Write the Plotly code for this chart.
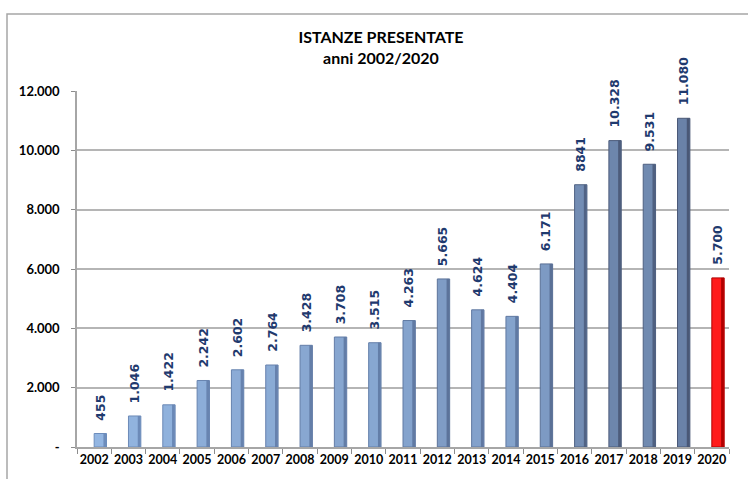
import plotly.graph_objects as go

years = ["2002", "2003", "2004", "2005", "2006", "2007", "2008", "2009", "2010", "2011",
         "2012", "2013", "2014", "2015", "2016", "2017", "2018", "2019", "2020"]
values = [455, 1046, 1422, 2242, 2602, 2764, 3428, 3708, 3515, 4263,
          5665, 4624, 4404, 6171, 8841, 10328, 9531, 11080, 5700]
labels = ["455", "1.046", "1.422", "2.242", "2.602", "2.764", "3.428", "3.708", "3.515", "4.263",
          "5.665", "4.624", "4.404", "6.171", "8841", "10.328", "9.531", "11.080", "5.700"]
y_ticks = [0, 2000, 4000, 6000, 8000, 10000, 12000]
y_tick_labels = ["-", "2.000", "4.000", "6.000", "8.000", "10.000", "12.000"]


def mix(c1, c2, t):
    a = [int(c1[i:i + 2], 16) for i in (1, 3, 5)]
    b = [int(c2[i:i + 2], 16) for i in (1, 3, 5)]
    return "#" + "".join("%02x" % round(a[k] + (b[k] - a[k]) * t) for k in range(3))


vmax = max(values)
n = len(years)
body = [mix("#95b8e4", "#6a82a8", v / vmax) for v in values[:-1]] + ["#ff1a1a"]
edge = [mix("#6f8fbf", "#4a5876", v / vmax) for v in values[:-1]] + ["#b00000"]
xs = list(range(n))

fig = go.Figure()
fig.add_trace(go.Bar(
    x=xs, y=values, width=0.36, offset=0.0,
    marker=dict(color=body, line=dict(color=edge, width=1)),
    hovertext=years, hoverinfo="text+y",
))
fig.add_trace(go.Bar(
    x=xs, y=values, width=0.08, offset=0.27,
    marker=dict(color=edge, line=dict(width=0)),
    hoverinfo="skip",
))

for i, (v, lab) in enumerate(zip(values, labels)):
    fig.add_annotation(
        x=i, y=v, text=lab, showarrow=False, textangle=-90,
        yanchor="bottom", xanchor="center", yshift=11, xshift=6,
        font=dict(family="DejaVu Sans", size=12.5, color="#1f3a6e", weight="bold"),
    )

ml, mr, mt, mb = 77, 19, 91, 27
W, H = 748, 479
pw, ph = W - ml - mr, H - mt - mb

fig.add_shape(type="rect", xref="paper", yref="paper",
              x0=(7 - ml) / pw, x1=(770 - ml) / pw,
              y0=(H - mb - 500) / ph, y1=(H - mb - 13) / ph,
              line=dict(color="#a6a6a6", width=1.5), fillcolor="rgba(0,0,0,0)", layer="below")

fig.update_layout(
    width=W, height=H,
    margin=dict(l=ml, r=mr, t=mt, b=mb),
    paper_bgcolor="white", plot_bgcolor="white",
    showlegend=False, barmode="overlay",
    title=dict(text="<b>ISTANZE PRESENTATE</b><br><b>anni 2002/2020</b>",
               x=381 / W, xanchor="center", y=0.91, yanchor="top",
               font=dict(family="Lato", size=16, color="black")),
)
fig.update_xaxes(
    range=[-0.5, n - 0.5],
    tickvals=xs, ticktext=years,
    ticks="", showline=True, linecolor="#a6a6a6", linewidth=1.5, showgrid=False, zeroline=False,
    tickfont=dict(family="Lato", size=12.5, color="black", weight="bold"),
    minor=dict(tickvals=[i - 0.5 for i in range(n + 1)], ticks="outside",
               ticklen=5, tickcolor="#8c8c8c", showgrid=False),
)
fig.update_yaxes(
    range=[0, 12000], tickvals=y_ticks, ticktext=y_tick_labels,
    ticks="outside", ticklen=4, tickcolor="#8c8c8c", ticklabelstandoff=9,
    showline=True, linecolor="#a6a6a6", linewidth=1.5,
    showgrid=True, gridcolor="#b5b5b5", gridwidth=1.5, zeroline=False,
    tickfont=dict(family="Lato", size=13, color="black", weight="bold"),
)

fig.write_html("out.html", config={"displayModeBar": False},
               post_script="document.body.style.margin='0';")
